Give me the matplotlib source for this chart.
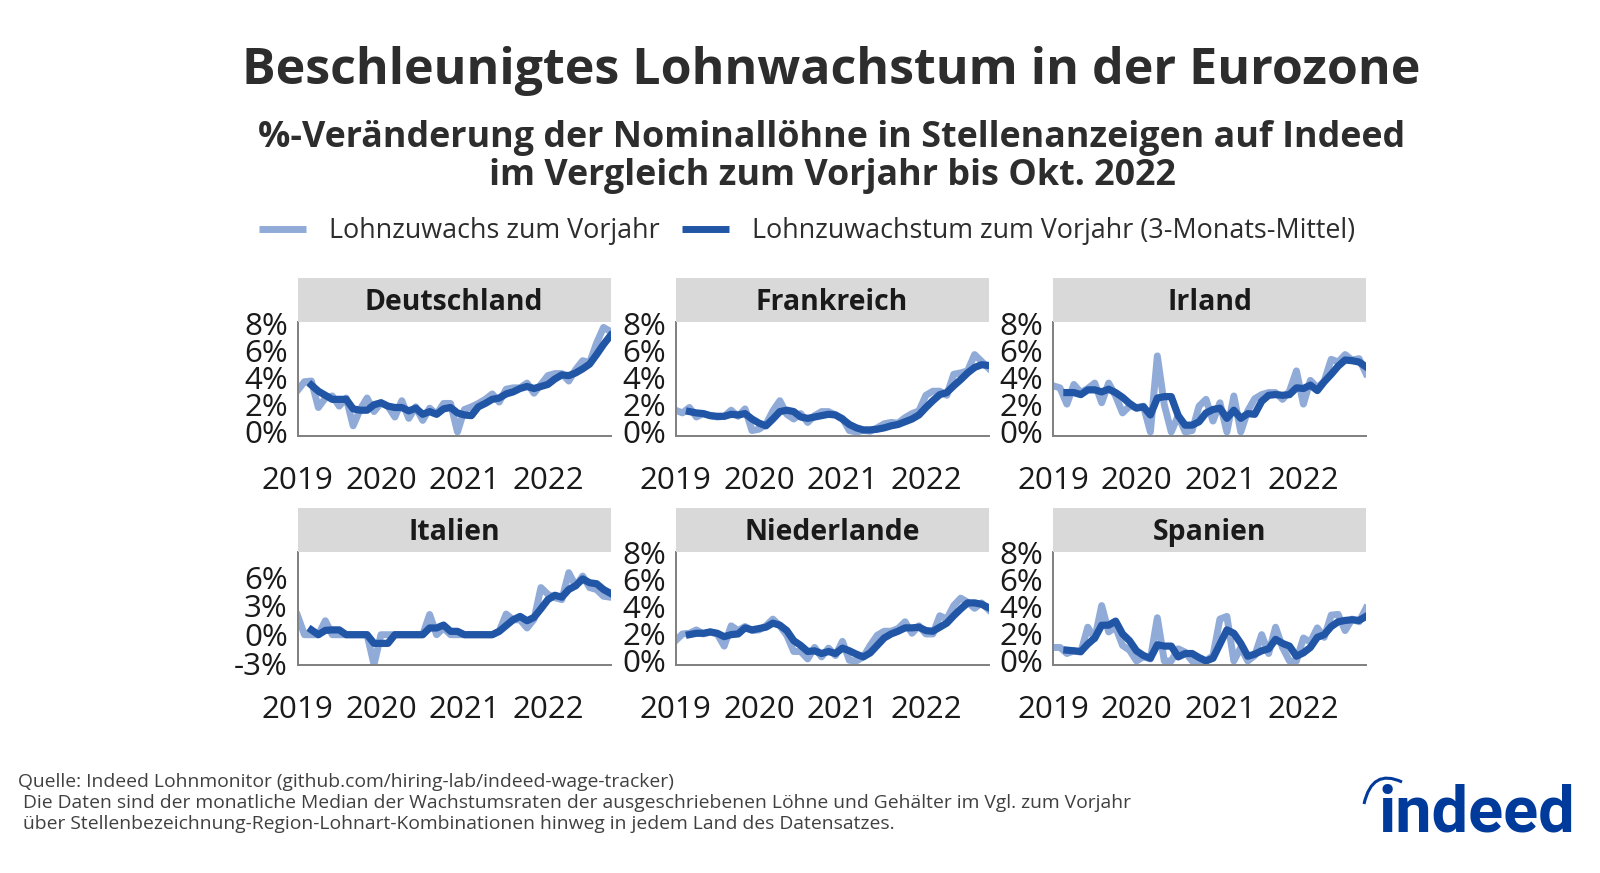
"""Wage growth small multiples for the euro zone, Indeed style."""

import matplotlib

matplotlib.use("Agg")
import matplotlib.pyplot as plt
from matplotlib.lines import Line2D
from matplotlib.patches import PathPatch, Rectangle
from matplotlib.path import Path

plt.rcParams["font.family"] = ["Open Sans", "DejaVu Sans"]

WIDTH = 1600
HEIGHT = 873
LIGHT = "#90ABD8"
DARK = "#2155A5"
TEXT = "#2D2D2D"

YEAR_TICKS = [0, 12, 24, 36]
YEAR_LABELS = ["2019", "2020", "2021", "2022"]
N = None

de_raw = [3.05, 3.7, 3.75, 1.8, 2.5, 2.65, 1.9, 2.5, 0.45, 1.65, 2.5, 1.5, 2.15, 1.9, 1.1, 2.3,
          1.0, 1.85, 0.85, 1.75, 1.3, 2.1, 2.1, 0.0, 1.65, 1.85, 2.1, 2.4, 2.8, 2.2, 3.15, 3.25,
          3.25, 3.6, 2.85, 3.5, 4.15, 4.3, 4.3, 3.75, 4.6, 5.25, 5.1, 6.55, 7.7, 7.4]
de_avg = [N, N, 3.45, 3.0, 2.7, 2.4, 2.4, 2.4, 1.7, 1.6, 1.6, 2.0, 2.15, 1.9, 1.8, 1.8,
          1.55, 1.75, 1.3, 1.5, 1.3, 1.7, 1.8, 1.4, 1.25, 1.2, 1.85, 2.1, 2.4, 2.5, 2.8, 2.95,
          3.2, 3.35, 3.2, 3.35, 3.5, 3.9, 4.2, 4.15, 4.35, 4.65, 5.0, 5.7, 6.45, 7.1]

fr_raw = [1.6, 1.4, 1.8, 1.1, 1.35, 1.2, 1.1, 1.15, 1.6, 1.15, 1.7, 0.1, 0.2, 0.55, 1.55, 2.3,
          1.3, 0.95, 1.35, 0.7, 1.2, 1.5, 1.5, 1.25, 1.0, 0.1, 0.0, 0.1, 0.05, 0.3, 0.6, 0.7,
          0.65, 1.05, 1.35, 1.55, 2.7, 3.0, 3.0, 2.7, 4.25, 4.35, 4.5, 5.7, 5.2, 4.7]
fr_avg = [N, N, 1.5, 1.4, 1.35, 1.2, 1.15, 1.15, 1.3, 1.25, 1.35, 0.95, 0.65, 0.45, 0.95, 1.5,
          1.6, 1.5, 1.1, 1.0, 1.1, 1.2, 1.3, 1.25, 0.95, 0.55, 0.3, 0.15, 0.15, 0.2, 0.3, 0.45,
          0.55, 0.75, 0.95, 1.25, 1.8, 2.3, 2.75, 2.9, 3.4, 3.85, 4.35, 4.75, 4.95, 4.9]

ie_raw = [3.4, 3.25, 2.05, 3.5, 2.9, 3.2, 3.6, 2.15, 3.6, 2.65, 1.4, 1.9, 1.8, 1.9, 0.0, 5.6,
          2.0, 0.0, 1.2, 0.0, 0.1, 1.9, 2.4, 0.8, 2.15, 0.0, 2.65, 0.0, 1.55, 2.45, 2.75, 2.9,
          2.9, 2.4, 3.0, 4.5, 2.05, 3.8, 3.25, 3.75, 5.35, 5.15, 5.7, 5.3, 5.4, 4.3]
ie_avg = [N, N, 2.9, 2.9, 2.75, 3.1, 3.1, 2.95, 3.15, 2.9, 2.55, 2.1, 1.75, 1.85, 1.25, 2.5,
          2.6, 2.6, 1.2, 0.5, 0.5, 0.75, 1.4, 1.65, 1.75, 1.0, 1.6, 1.0, 1.35, 1.3, 2.25, 2.7,
          2.75, 2.7, 2.75, 3.25, 3.2, 3.45, 3.05, 3.7, 4.25, 4.85, 5.3, 5.25, 5.15, 4.8]

it_raw = [2.0, 0.0, 0.0, 0.0, 1.45, 0.0, 0.0, 0.0, 0.0, 0.0, 0.0, -3.1, 0.0, 0.0, 0.0, 0.0,
          0.0, 0.0, 0.0, 2.1, 0.0, 0.7, 0.0, 0.0, 0.0, 0.0, 0.0, 0.0, 0.0, 0.35, 2.15, 1.55,
          1.55, 0.7, 1.6, 4.9, 4.2, 3.85, 3.65, 6.45, 5.05, 6.1, 4.9, 4.7, 4.0, 3.9]
it_avg = [N, N, 0.5, 0.0, 0.45, 0.5, 0.5, 0.0, 0.0, 0.0, 0.0, -0.9, -0.9, -0.9, 0.0, 0.0,
          0.0, 0.0, 0.0, 0.7, 0.7, 1.0, 0.35, 0.35, 0.0, 0.0, 0.0, 0.0, 0.0, 0.35, 0.95, 1.55,
          1.9, 1.45, 1.8, 2.7, 3.65, 4.1, 3.9, 4.7, 5.1, 5.8, 5.4, 5.3, 4.7, 4.3]

nl_raw = [1.5, 2.0, 2.05, 2.3, 2.0, 2.15, 2.0, 1.1, 2.6, 2.25, 2.55, 2.25, 2.3, 2.6, 3.1, 2.6,
          1.9, 0.7, 0.7, 0.15, 1.0, 0.3, 0.95, 0.4, 1.45, 0.05, 0.0, 0.3, 1.15, 1.9, 2.2, 2.2,
          2.4, 2.9, 2.05, 2.6, 2.0, 2.0, 3.35, 3.1, 4.1, 4.65, 4.35, 3.9, 4.3, 3.8]
nl_avg = [N, N, 1.95, 2.05, 2.05, 2.15, 2.05, 1.8, 1.95, 2.0, 2.45, 2.3, 2.4, 2.5, 2.8, 2.65,
          2.25, 1.5, 1.15, 0.7, 0.75, 0.55, 0.7, 0.55, 0.95, 0.75, 0.5, 0.3, 0.6, 1.15, 1.7, 2.0,
          2.2, 2.45, 2.45, 2.5, 2.25, 2.2, 2.5, 2.8, 3.35, 3.85, 4.3, 4.3, 4.2, 3.95]

es_raw = [1.0, 1.0, 0.55, 0.75, 0.65, 2.5, 1.65, 4.1, 2.15, 2.5, 1.15, 0.8, 0.0, 0.3, 0.15, 3.2,
          0.0, 0.0, 0.9, 0.65, 0.0, 0.0, 0.0, 0.4, 3.1, 3.3, 0.0, 1.0, 0.0, 0.4, 1.95, 0.55,
          2.5, 1.0, 0.0, 0.0, 1.7, 1.4, 2.45, 1.75, 3.4, 3.45, 2.25, 3.1, 2.9, 3.9]
es_avg = [N, N, 0.8, 0.75, 0.7, 1.25, 1.7, 2.65, 2.65, 2.95, 2.0, 1.5, 0.75, 0.4, 0.2, 1.2,
          1.1, 1.1, 0.3, 0.55, 0.55, 0.25, 0.0, 0.2, 1.25, 2.3, 2.05, 1.3, 0.35, 0.5, 0.75, 0.9,
          1.6, 1.3, 1.1, 0.35, 0.6, 1.0, 1.75, 1.95, 2.55, 2.9, 3.0, 3.05, 3.0, 3.3]

countries = ["Deutschland", "Frankreich", "Irland", "Italien", "Niederlande", "Spanien"]
raw_series = [de_raw, fr_raw, ie_raw, it_raw, nl_raw, es_raw]
avg_series = [de_avg, fr_avg, ie_avg, it_avg, nl_avg, es_avg]
y_ticks = [[0, 2, 4, 6, 8]] * 3 + [[-3, 0, 3, 6]] + [[0, 2, 4, 6, 8]] * 2
y_limits = [(-0.3, 8.1)] * 3 + [(-3.15, 8.6)] + [(-0.3, 8.07)] * 2

PANEL_LEFT = [297.5, 675.5, 1053]
PANEL_TOP = [322, 552]
PANEL_BOTTOM = [436, 665]
PANEL_W = 313
STRIP_H = 44


def px_x(x):
    return x / WIDTH


def px_y(y):
    return 1 - y / HEIGHT


def draw_panel(fig, index):
    col = index % 3
    row = index // 3
    left = PANEL_LEFT[col]
    top = PANEL_TOP[row]
    bottom = PANEL_BOTTOM[row]
    ax = fig.add_axes([px_x(left), px_y(bottom), PANEL_W / WIDTH, (bottom - top) / HEIGHT])

    months = list(range(len(raw_series[index])))
    ax.plot(months, raw_series[index], color=LIGHT, lw=5.0, solid_joinstyle="round")
    ax.plot(months, avg_series[index], color=DARK, lw=5.2, solid_joinstyle="round")

    ax.set_xlim(0, 45)
    ax.set_ylim(*y_limits[index])
    ax.set_xticks(YEAR_TICKS, YEAR_LABELS)
    ax.set_yticks(y_ticks[index], [f"{v}%" for v in y_ticks[index]])
    ax.tick_params(axis="x", length=0, pad=21.5, labelsize=22.6, labelcolor="#1A1A1A")
    ax.tick_params(axis="y", length=0, pad=7, labelsize=22.6, labelcolor="#1A1A1A")

    for side in ("top", "right"):
        ax.spines[side].set_visible(False)
    for side in ("left", "bottom"):
        ax.spines[side].set_color("#7F7F7F")
        ax.spines[side].set_linewidth(1.4)

    fig.add_artist(Rectangle((px_x(left), px_y(top)), PANEL_W / WIDTH, STRIP_H / HEIGHT,
                             transform=fig.transFigure, facecolor="#D9D9D9", edgecolor="none"))
    fig.text(px_x(left + PANEL_W / 2), px_y(top - STRIP_H / 2 + 2.5), countries[index],
             ha="center", va="center", fontsize=20.4, fontweight="bold", color="#1A1A1A")


def draw_logo(fig):
    blue = "#003A9B"
    fig.text(px_x(1379), px_y(831), "indeed", ha="left", va="baseline", fontsize=46.7,
             fontweight="bold", color=blue, family=["Roboto", "DejaVu Sans"])
    verts = [(px_x(1364), px_y(804)), (px_x(1372), px_y(768)), (px_x(1402), px_y(782))]
    arc = Path(verts, [Path.MOVETO, Path.CURVE3, Path.CURVE3])
    fig.add_artist(PathPatch(arc, transform=fig.transFigure, fill=False, edgecolor=blue, lw=2.2))


def main():
    fig = plt.figure(figsize=(WIDTH / 100, HEIGHT / 100), dpi=100, facecolor="white")

    fig.text(px_x(831), px_y(71), "Beschleunigtes Lohnwachstum in der Eurozone",
             ha="center", va="center", fontsize=36.1, fontweight="bold", color=TEXT)
    fig.text(px_x(832), px_y(157),
             "%-Veränderung der Nominallöhne in Stellenanzeigen auf Indeed\n"
             "im Vergleich zum Vorjahr bis Okt. 2022",
             ha="center", va="center", fontsize=25.86, fontweight="bold", color=TEXT, linespacing=1.07)

    handles = [Line2D([], [], color=LIGHT, lw=5, solid_capstyle="butt"),
               Line2D([], [], color=DARK, lw=5, solid_capstyle="butt")]
    labels = ["Lohnzuwachs zum Vorjahr", "Lohnzuwachstum zum Vorjahr (3-Monats-Mittel)"]
    fig.legend(handles, labels, ncol=2, loc="center", bbox_to_anchor=(px_x(807.4), px_y(231)),
               frameon=False, fontsize=19.35, labelcolor=TEXT, handlelength=1.75,
               handletextpad=0.85, columnspacing=0.84)

    for index in range(len(countries)):
        draw_panel(fig, index)

    fig.text(px_x(18.5), px_y(803),
             "Quelle: Indeed Lohnmonitor (github.com/hiring-lab/indeed-wage-tracker)\n"
             " Die Daten sind der monatliche Median der Wachstumsraten der ausgeschriebenen "
             "Löhne und Gehälter im Vgl. zum Vorjahr\n"
             " über Stellenbezeichnung-Region-Lohnart-Kombinationen hinweg in jedem Land des "
             "Datensatzes.",
             ha="left", va="center", fontsize=13.9, color="#404040", linespacing=1.21)

    draw_logo(fig)
    fig.savefig("out.png", dpi=100)
    plt.close(fig)


main()
